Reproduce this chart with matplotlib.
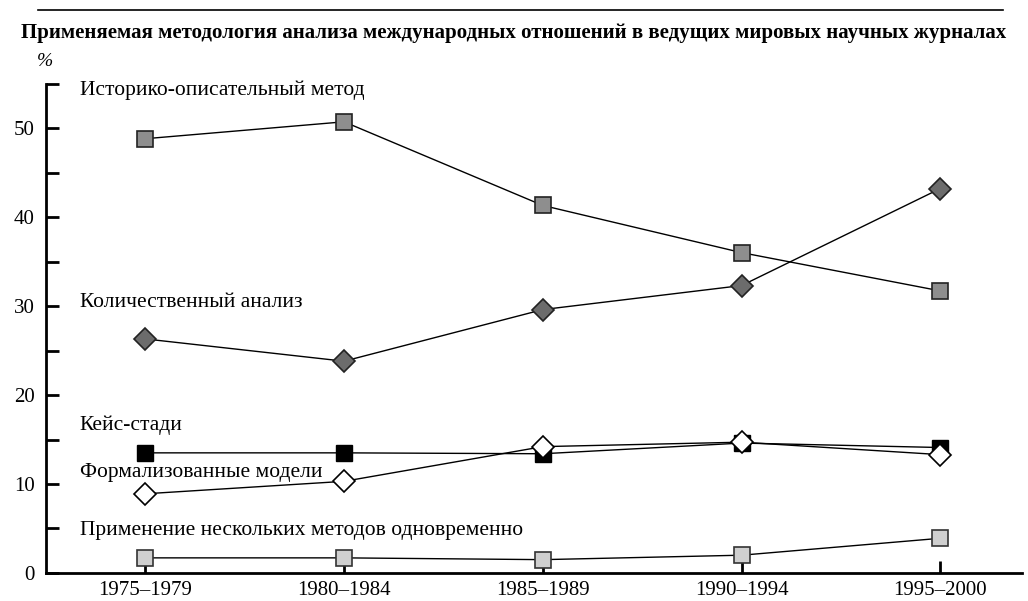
import matplotlib
matplotlib.use('Agg')
import matplotlib.pyplot as plt
import numpy as np

plt.rc('font', family=['Liberation Serif', 'DejaVu Serif'])

# DATA
periods = ['1975–1979', '1980–1984', '1985–1989', '1990–1994', '1995–2000']
historical = [48.8, 50.7, 41.3, 36.0, 31.7]
quantitative = [26.3, 23.8, 29.6, 32.3, 43.2]
case_study = [13.5, 13.5, 13.4, 14.6, 14.1]
formal = [8.9, 10.3, 14.2, 14.7, 13.3]
multiple = [1.7, 1.7, 1.5, 2.0, 3.9]

labels = ['Историко-описательный метод', 'Количественный анализ', 'Кейс-стади',
          'Формализованные модели', 'Применение нескольких методов одновременно']
label_y = [54.3, 30.4, 16.6, 11.3, 4.8]

x = np.arange(len(periods))

fig = plt.figure(figsize=(10.28, 6.01), dpi=100)
ax = fig.add_axes([0.0447, 0.0466, 0.9493, 0.8144])

ms = 12
msd = 11.5
ax.plot(x, case_study, color='k', lw=1, marker='s', ms=ms, mfc='black', mec='black', zorder=3)
ax.plot(x, formal, color='k', lw=1, marker='D', ms=msd, mfc='white', mec='black', mew=1.2, zorder=4)
ax.plot(x, historical, color='k', lw=1, marker='s', ms=ms, mfc='#8e8e8e', mec='#222222', mew=1.2, zorder=3)
ax.plot(x, quantitative, color='k', lw=1, marker='D', ms=msd, mfc='#6c6c6c', mec='#222222', mew=1.2, zorder=3)
ax.plot(x, multiple, color='k', lw=1, marker='s', ms=ms, mfc='#cfcfcf', mec='#333333', mew=1.2, zorder=3)

for lab, ly in zip(labels, label_y):
    ax.text(-0.33, ly, lab, fontsize=15.5, va='center', ha='left')

ax.set_xlim(-0.5, 4.41)
ax.set_ylim(0, 55)
ax.set_xticks(x)
ax.set_xticklabels(periods, fontsize=15)
ax.set_yticks([0, 10, 20, 30, 40, 50])
ax.set_yticks([5, 15, 25, 35, 45, 55], minor=True)
ax.tick_params(axis='y', which='both', direction='in', length=9, width=2, labelsize=15, pad=8)
ax.tick_params(axis='x', which='both', direction='in', length=9, width=2, pad=6)
ax.spines['top'].set_visible(False)
ax.spines['right'].set_visible(False)
ax.spines['left'].set_linewidth(2)
ax.spines['bottom'].set_linewidth(2)

fig.text(0.044, 0.897, '%', fontsize=14, style='italic', ha='center', va='center')
fig.text(0.5, 0.945, 'Применяемая методология анализа международных отношений в ведущих мировых научных журналах',
         fontsize=15, weight='bold', ha='center', va='center')
fig.add_artist(plt.Line2D([0.037, 0.976], [0.983, 0.983], color='k', lw=1.2, transform=fig.transFigure))

fig.savefig('out.png', dpi=100)
